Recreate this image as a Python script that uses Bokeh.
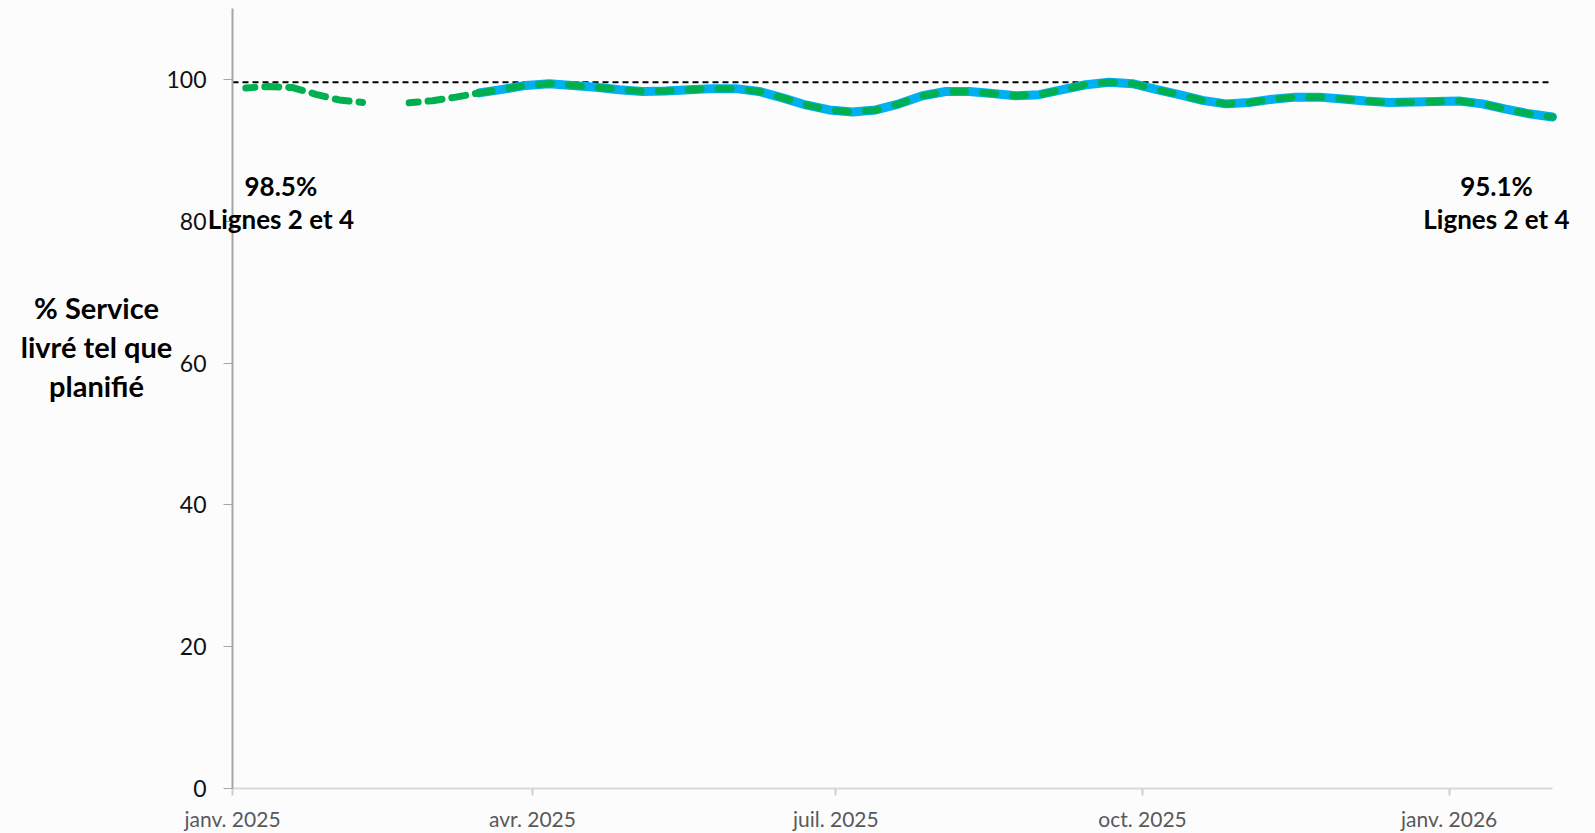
import numpy as np
import pandas as pd
from bokeh.plotting import figure
from bokeh.models import ColumnDataSource, Label, FixedTicker, Range1d
from bokeh.embed import file_html
from bokeh.resources import INLINE

# ---------------- data ----------------
first_week = "2025-01-05"
n_weeks = 57
green_values = [98.8, 99.0, 98.85, 97.9, 97.1, 96.75, np.nan, 96.7, 97.0, 97.5,
                98.1, 98.6, 99.15, 99.4, 99.15, 98.9, 98.55, 98.3, 98.35, 98.55,
                98.7, 98.7, 98.3, 97.4, 96.4, 95.7, 95.4, 95.7, 96.55, 97.7,
                98.3, 98.3, 98.0, 97.7, 97.85, 98.55, 99.25, 99.6, 99.4, 98.6,
                97.85, 97.05, 96.55, 96.75, 97.2, 97.5, 97.5, 97.25, 96.95, 96.75,
                96.8, 96.9, 96.95, 96.55, 95.8, 95.15, 94.7]
blue_values = [np.nan] * 10 + green_values[10:]
dense_dash_until = 10          # index where the green dash pattern changes
target_value = 99.6
first_label = ["98.5%", "Lignes 2 et 4"]
last_label = ["95.1%", "Lignes 2 et 4"]
y_title = ["% Service", "livré tel que", "planifié"]
y_ticks = [0, 20, 40, 60, 80, 100]
x_tick_dates = ["2025-01-01", "2025-04-01", "2025-07-01", "2025-10-01", "2026-01-01"]
x_tick_labels = ["janv. 2025", "avr. 2025", "juil. 2025", "oct. 2025", "janv. 2026"]
x_start, x_end = "2025-01-01", "2026-02-01"
y_start, y_end = 0, 110

# ---------------- layout (pixels) ----------------
W, H = 1595, 833
AX_LEFT, AX_RIGHT = 232, 1552      # canvas x of x_start / x_end
AX_TOP, AX_BOTTOM = 8, 788         # canvas y of y_end / y_start


def ms(d):
    return pd.Timestamp(d).value / 1e6


x0, x1 = ms(x_start), ms(x_end)
px_x = (AX_RIGHT - AX_LEFT) / (x1 - x0)
px_y = (AX_BOTTOM - AX_TOP) / (y_end - y_start)
xr = Range1d(x0 - AX_LEFT / px_x, x1 + (W - AX_RIGHT) / px_x)
yr = Range1d(y_start - (H - AX_BOTTOM) / px_y, y_end + AX_TOP / px_y)

dates = pd.date_range(first_week, periods=n_weeks, freq="7D")
x_ms = [ms(d) for d in dates]
k = dense_dash_until
src_all = ColumnDataSource(dict(x=x_ms, blue=blue_values))
src_early = ColumnDataSource(dict(x=x_ms[:k + 1], y=green_values[:k + 1]))
src_late = ColumnDataSource(dict(x=x_ms[k:], y=green_values[k:]))

FONT = "Lato"
BG = "#fcfcfc"

p = figure(width=W, height=H, output_backend="svg", toolbar_location=None,
           background_fill_color=BG, border_fill_color=BG,
           x_range=xr, y_range=yr, min_border=0)
p.min_border_left = p.min_border_right = p.min_border_top = p.min_border_bottom = 0
p.outline_line_color = None
p.grid.visible = False

# target line
p.line([x0, x1], [target_value, target_value], line_color="black",
       line_width=2, line_dash="6 4")

p.line("x", "blue", source=src_all, line_color="#00b0f0", line_width=9,
       line_join="round", line_cap="round")
p.line("x", "y", source=src_early, line_color="#00b050", line_width=7,
       line_dash="14 10", line_dash_offset=5, line_join="round", line_cap="round")
p.line("x", "y", source=src_late, line_color="#00b050", line_width=7,
       line_dash="13 17", line_join="round", line_cap="round")

# axes (drawn inside the frame at fixed locations)
yax = p.yaxis[0]
yax.fixed_location = x0
yax.bounds = (y_start, y_end)
yax.ticker = FixedTicker(ticks=y_ticks)
yax.axis_line_color = "#a6a6a6"
yax.axis_line_width = 2
yax.major_tick_line_color = "#a6a6a6"
yax.major_tick_out = 9
yax.major_tick_in = 0
yax.minor_tick_line_color = None
yax.major_label_text_font = FONT
yax.major_label_text_font_size = "23px"
yax.major_label_text_color = "#111111"
yax.major_label_standoff = 17

xax = p.xaxis[0]
xax.fixed_location = y_start
xax.bounds = (x0, x1)
tick_ms = [ms(d) for d in x_tick_dates]
xax.ticker = FixedTicker(ticks=tick_ms)
xax.major_label_overrides = {t: l for t, l in zip(tick_ms, x_tick_labels)}
xax.axis_line_color = "#d9d9d9"
xax.axis_line_width = 2
xax.major_tick_line_color = "#cfcfcf"
xax.major_tick_line_width = 2
xax.major_tick_out = 7
xax.major_tick_in = 0
xax.minor_tick_line_color = None
xax.major_label_text_font = FONT
xax.major_label_text_font_size = "21px"
xax.major_label_text_color = "#595959"
xax.major_label_standoff = 10


def lab(x, y, text, xo, size, yo=0):
    p.add_layout(Label(x=x, y=y, text=text, x_offset=xo, y_offset=yo,
                       text_align="center", text_baseline="middle",
                       text_font=FONT, text_font_style="bold",
                       text_font_size=size, text_color="black"))


# data labels at first / last point
lab(x_ms[0], 85.0, first_label[0], 35, "26px")
lab(x_ms[0], 80.3, first_label[1], 35, "26px")
lab(x_ms[-1], 85.0, last_label[0], -56, "26px")
lab(x_ms[-1], 80.3, last_label[1], -56, "26px")

# y-axis title (horizontal, three lines)
for i, line in enumerate(y_title):
    lab(x0, 62.3, line, -136, "29px", yo=39 - 39 * i)

open("out.html", "w").write(file_html(p, INLINE))
